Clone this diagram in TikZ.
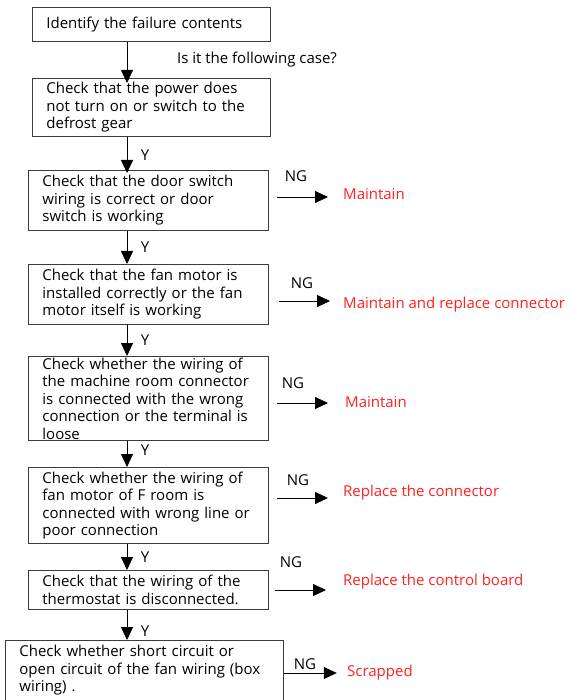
\documentclass[tikz,border=0pt]{standalone}
\usepackage{fontspec}
\setmainfont{Open Sans}
\usetikzlibrary{arrows.meta,positioning,calc}
\definecolor{ngred}{RGB}{255,32,32}
\definecolor{boxgrey}{RGB}{60,60,60}

\begin{document}
\begin{tikzpicture}[x=1pt, y=-1pt,
    box/.style={draw=boxgrey, line width=0.8pt, anchor=north west, align=left,
                inner xsep=14pt, inner ysep=0pt, font=\fontsize{15}{17.5}\selectfont},
    arr/.style={-{Triangle[length=13pt, width=12pt]}, line width=0.8pt},
    lbl/.style={font=\fontsize{15}{16}\selectfont, inner sep=0pt},
    res/.style={font=\fontsize{15}{16}\selectfont, text=ngred, anchor=west, inner sep=0pt}
]
    \useasboundingbox (0,0) rectangle (570,700);

    % chain of checks
    \node[box, text width=210pt, minimum height=34pt] (idf) at (32,7) {Identify the failure contents};
    \node[box, text width=210pt, minimum height=58pt] (pwr) at (32,78)
        {Check that the power does\\not turn on or switch to the\\defrost gear};
    \node[box, text width=212pt, minimum height=60pt] (door) at (28,170)
        {Check that the door switch\\wiring is correct or door\\switch is working};
    \node[box, text width=212pt, minimum height=60pt] (fan) at (28,264)
        {Check that the fan motor is\\installed correctly or the fan\\motor itself is working};
    \node[box, text width=212pt, minimum height=84pt] (mach) at (28,356)
        {Check whether the wiring of\\the machine room connector\\is connected with the wrong\\connection or the terminal is\\loose};
    \node[box, text width=212pt, minimum height=76pt] (froom) at (28,467)
        {Check whether the wiring of\\fan motor of F room is\\connected with wrong line or\\poor connection};
    \node[box, text width=212pt, minimum height=39pt] (therm) at (28,570)
        {Check that the wiring of the\\thermostat is disconnected.};
    \node[box, text width=250pt, minimum height=60pt] (short) at (5,640)
        {Check whether short circuit or\\open circuit of the fan wiring (box\\wiring) .};

    \coordinate (ax) at (127,0);
    \draw[arr] (idf.south -| ax) -- ($(pwr.north -| ax)+(0,5)$);
    \draw[arr] (pwr.south -| ax) -- ($(door.north -| ax)+(0,3)$);
    \draw[arr] (door.south -| ax) -- (fan.north -| ax);
    \draw[arr] (fan.south -| ax) -- (mach.north -| ax);
    \draw[arr] (mach.south -| ax) -- (froom.north -| ax);
    \draw[arr] (froom.south -| ax) -- (therm.north -| ax);
    \draw[arr] (therm.south -| ax) -- (short.north -| ax);

    \node[lbl] (ask) at (257,60) {Is it the following case?};
    \foreach \y in {155,247,340,450,557,631}
        \node[lbl] at (145,\y) {Y};

    % NG branches
    \node[res] (r1) at (343,194) {Maintain};
    \node[res] (r2) at (343,305) {Maintain and replace connector};
    \node[res] (r3) at (345,402) {Maintain};
    \node[res] (r4) at (343,493) {Replace the connector};
    \node[res] (r5) at (343,582) {Replace the control board};
    \node[res] (r6) at (347,673) {Scrapped};

    \coordinate (s1) at (277,197);
    \coordinate (s2) at (279,301);
    \coordinate (s3) at (277,403);
    \coordinate (s4) at (277,498);
    \coordinate (s5) at (275,590);
    \coordinate (s6) at (short.east |- 0,673);
    \draw[arr] (s1) -- ++(51,0);
    \draw[arr] (s2) -- ++(51,0);
    \draw[arr] (s3) -- ++(51,0);
    \draw[arr] (s4) -- ++(51,0);
    \draw[arr] (s5) -- ++(51,0);
    \draw[arr] (s6) -- ++(53,0);

    \node[lbl] (ng1) at (296,176) {NG};
    \node[lbl] (ng2) at (302,283) {NG};
    \node[lbl] (ng3) at (293,383) {NG};
    \node[lbl] (ng4) at (298,480) {NG};
    \node[lbl] (ng5) at (291,562) {NG};
    \node[lbl] (ng6) at (305,664) {NG};
\end{tikzpicture}
\end{document}
